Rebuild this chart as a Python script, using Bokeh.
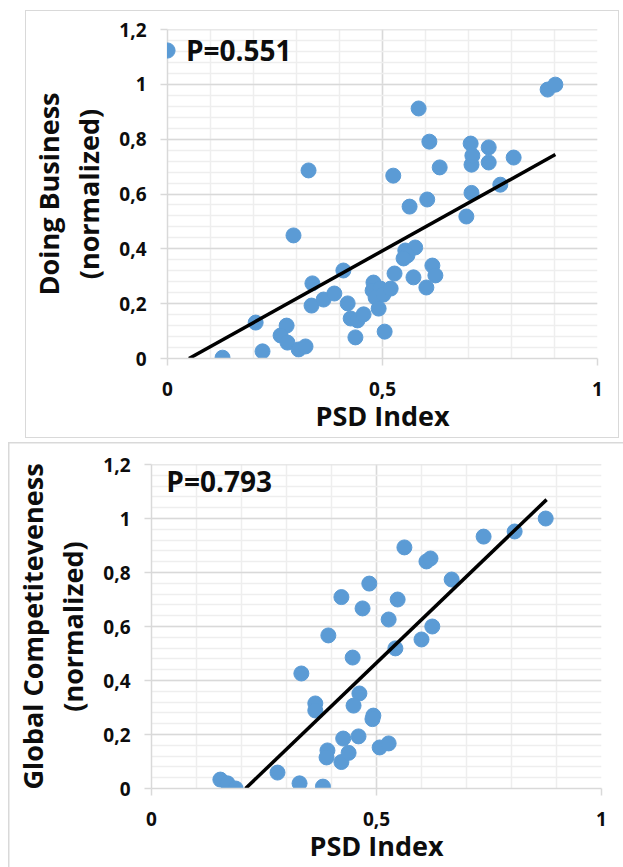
from bokeh.plotting import figure
from bokeh.models import (Range1d, SingleIntervalTicker, CustomJSTickFormatter,
                          Legend, LegendItem, Label, Spacer)
from bokeh.layouts import column, row
from bokeh.embed import file_html
from bokeh.resources import INLINE

# ---------------- data ----------------
db_psd = [0.128, 0.221, 0.205, 0.277, 0.263, 0.279, 0.305, 0.321, 0.293, 0.337,
          0.335, 0.363, 0.388, 0.409, 0.419, 0.426, 0.442, 0.456, 0.437, 0.505,
          0.479, 0.477, 0.495, 0.484, 0.502, 0.519, 0.491, 0.528, 0.572, 0.616,
          0.623, 0.602, 0.553, 0.576, 0.558, 0.549, 0.563, 0.604, 0.525, 0.633,
          0.609, 0.584, 0.328, 0.695, 0.707, 0.774, 0.707, 0.709, 0.705, 0.747,
          0.747, 0.805, 0.884, 0.902]
db_score = [0.003, 0.026, 0.131, 0.120, 0.084, 0.058, 0.033, 0.044, 0.449, 0.274,
            0.193, 0.215, 0.237, 0.321, 0.201, 0.146, 0.139, 0.161, 0.077, 0.098,
            0.277, 0.248, 0.255, 0.222, 0.233, 0.255, 0.182, 0.310, 0.296, 0.339,
            0.303, 0.259, 0.394, 0.405, 0.376, 0.365, 0.554, 0.580, 0.667, 0.697,
            0.791, 0.912, 0.686, 0.518, 0.604, 0.634, 0.707, 0.740, 0.784, 0.770,
            0.715, 0.733, 0.981, 0.999]

gc_psd = [0.153, 0.169, 0.187, 0.280, 0.329, 0.381, 0.333, 0.364, 0.364, 0.393,
          0.422, 0.391, 0.389, 0.426, 0.422, 0.438, 0.460, 0.738, 0.807, 0.876,
          0.562, 0.611, 0.620, 0.667, 0.484, 0.547, 0.469, 0.527, 0.624, 0.600,
          0.542, 0.447, 0.462, 0.449, 0.493, 0.491, 0.507, 0.527]
gc_score = [0.033, 0.019, 0.000, 0.059, 0.019, 0.007, 0.426, 0.315, 0.289, 0.567,
            0.709, 0.141, 0.115, 0.185, 0.098, 0.132, 0.193, 0.933, 0.952, 1.000,
            0.893, 0.841, 0.852, 0.774, 0.759, 0.700, 0.667, 0.626, 0.600, 0.552,
            0.519, 0.485, 0.352, 0.307, 0.270, 0.257, 0.152, 0.167]

db_trend_x = [0.050, 0.902]
db_trend_y = [0.000, 0.744]
gc_trend_x = [0.209, 0.878]
gc_trend_y = [0.000, 1.070]

x_title = "PSD Index"
db_title = "Doing Business\n(normalized)"
gc_title = "Global Competiteveness\n(normalized)"
db_label = "P=0.551"
gc_label = "P=0.793"

FONT = "Open Sans"
BLUE = "#5b9bd5"
MAJOR = "#d9d9d9"
MINOR = "#eeeeee"
TXT = "#0d0d0d"

fmt = CustomJSTickFormatter(code="""
const s = (Math.round(tick*10)/10).toString();
return s.replace('.', ',');
""")


def make_fig(w, h, bl, br, bt, bb, xs, ys, tx, ty, ytitle, box):
    p = figure(width=w, height=h, x_range=Range1d(0, 1), y_range=Range1d(0, 1.2001),
               output_backend="svg", toolbar_location=None, title=None,
               min_border_left=bl, min_border_right=br, min_border_top=bt,
               min_border_bottom=bb)
    p.outline_line_color = None
    p.background_fill_color = "white"
    p.border_fill_alpha = 0
    p.styles = box

    p.xaxis.ticker = SingleIntervalTicker(interval=0.5, num_minor_ticks=5)
    p.yaxis.ticker = SingleIntervalTicker(interval=0.2, num_minor_ticks=5)
    for ax in (p.xaxis[0], p.yaxis[0]):
        ax.formatter = fmt
        ax.axis_line_color = MAJOR
        ax.axis_line_width = 1.5
        ax.major_tick_line_color = MAJOR
        ax.major_tick_line_width = 1.5
        ax.major_tick_in = 0
        ax.major_tick_out = 7
        ax.minor_tick_line_color = None
        ax.major_label_text_font = FONT
        ax.major_label_text_font_style = "bold"
        ax.major_label_text_font_size = "19px"
        ax.major_label_text_color = TXT
        ax.axis_label_text_font = FONT
        ax.axis_label_text_font_style = "bold"
        ax.axis_label_text_font_size = "27px"
        ax.axis_label_text_color = TXT
    p.xaxis.major_label_standoff = 16
    p.yaxis.major_label_standoff = 14
    p.xaxis.axis_label = x_title
    p.xaxis.axis_label_standoff = -2
    p.yaxis.axis_label = ytitle
    p.yaxis.axis_label_standoff = 9
    p.yaxis.axis_label_text_line_height = 1.1

    for g in (p.xgrid[0], p.ygrid[0]):
        g.grid_line_color = MAJOR
        g.grid_line_width = 1.5
        g.minor_grid_line_color = MINOR
        g.minor_grid_line_width = 1.5

    r = p.scatter(xs, ys, size=15, fill_color=BLUE, line_color=BLUE)
    p.line(tx, ty, line_color="black", line_width=3.5)
    return p, r


p1, r1 = make_fig(594, 428, 142, 22, 19, 80, db_psd, db_score, db_trend_x, db_trend_y,
                  db_title, {"outline": "1.5px solid #d9d9d9", "outline-offset": "-1.5px"})
leg = Legend(items=[LegendItem(label=db_label, renderers=[r1])],
             location=(-19, 289), padding=0, margin=0, spacing=0,
             glyph_width=38, glyph_height=38, label_standoff=0,
             label_text_font=FONT, label_text_font_style="bold",
             label_text_font_size="28px", label_text_color=TXT,
             background_fill_alpha=0, border_line_color=None)
p1.add_layout(leg)

p2, r2 = make_fig(615, 425, 143, 22, 22, 79, gc_psd, gc_score, gc_trend_x, gc_trend_y,
                  gc_title, {"box-shadow": "inset 1.5px 1.5px 0 0 #d9d9d9"})
p2.add_layout(Label(x=0.033, y=1.14, text=gc_label, text_font=FONT,
                    text_font_style="bold", text_font_size="28px",
                    text_color=TXT, text_baseline="middle"))

layout = column(Spacer(height=10), row(Spacer(width=25), p1), Spacer(height=4),
                row(Spacer(width=8), p2), spacing=0)

open("out.html", "w").write(file_html(layout, INLINE))
